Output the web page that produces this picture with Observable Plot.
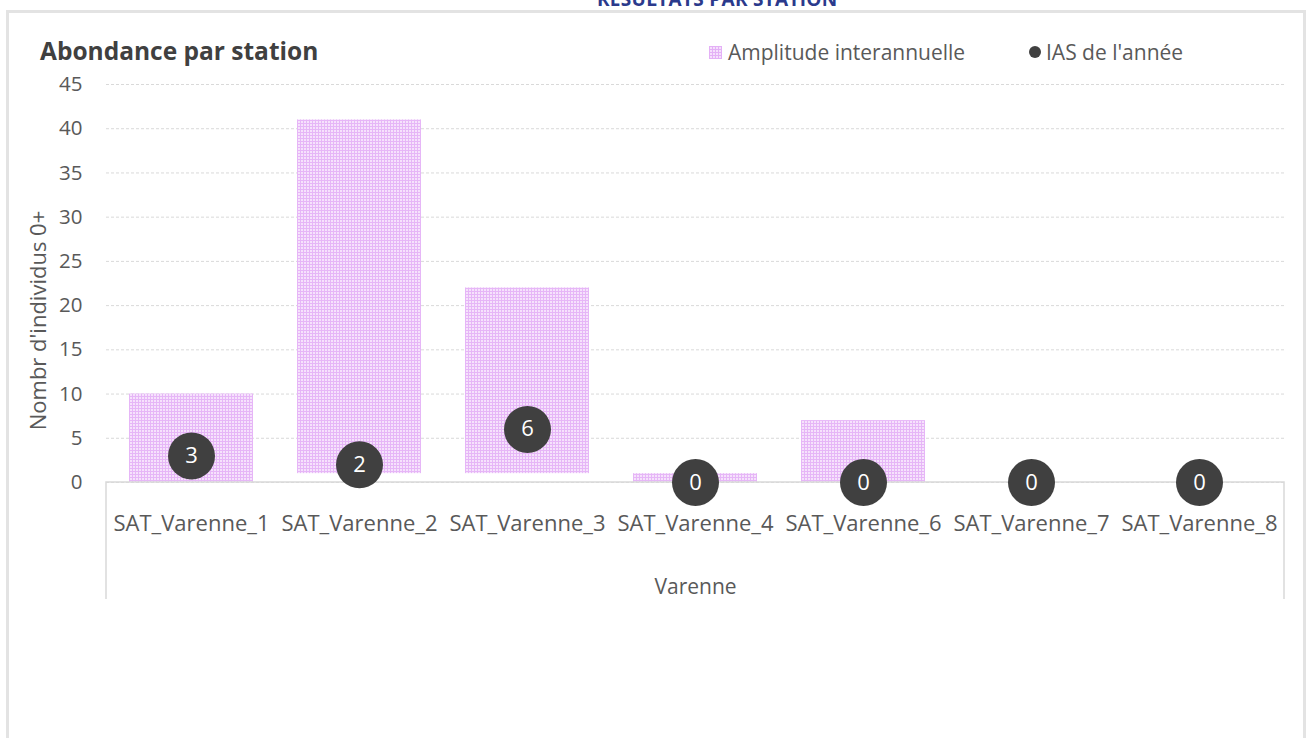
<!DOCTYPE html>
<html>
<head>
<meta charset="utf-8">
<script src="https://cdn.jsdelivr.net/npm/d3@7"></script>
<script src="https://cdn.jsdelivr.net/npm/@observablehq/plot@0.6"></script>
<style>
  html, body { margin: 0; padding: 0; background: #fff; }
  body { width: 1309px; height: 738px; overflow: hidden; position: relative; font-family: "Open Sans", sans-serif; }
  #frame { position: absolute; left: 6px; top: 10px; width: 1300px; height: 740px; border: 3px solid #e3e3e3; box-sizing: border-box; }
  #toptitle { position: absolute; left: 597px; top: -14px; white-space: nowrap; font-weight: bold; font-size: 19px; color: #2b3a8c; letter-spacing: 0.3px; }
  #chart { position: absolute; left: 0; top: 0; }
  #title { position: absolute; left: 40px; top: 35px; font-weight: bold; font-size: 24.5px; color: #404040; line-height: 32px; }
  .leg { position: absolute; top: 38px; font-size: 21px; color: #595959; display: flex; align-items: center; line-height: 28px; }
  .sw { width: 13px; height: 13px; margin-right: 6px; background-color: #f5e0fc;
        background-image: linear-gradient(#e4b0f6 1px, transparent 1px), linear-gradient(90deg, #e4b0f6 1px, transparent 1px);
        background-size: 3px 3px; }
  .dotsw { width: 12px; height: 12px; border-radius: 50%; background: #404040; margin-right: 5px; }
</style>
</head>
<body>
<div id="frame"></div>
<div id="toptitle">RESULTATS PAR STATION</div>
<div id="chart"></div>
<div id="title">Abondance par station</div>
<div class="leg" style="left:709px"><div class="sw"></div>Amplitude interannuelle</div>
<div class="leg" style="left:1029px"><div class="dotsw"></div>IAS de l'année</div>
<script>
const stations = ["SAT_Varenne_1","SAT_Varenne_2","SAT_Varenne_3","SAT_Varenne_4","SAT_Varenne_6","SAT_Varenne_7","SAT_Varenne_8"];
const ampMin = [0, 1, 1, 0, 0, null, null];
const ampMax = [10, 41, 22, 1, 7, null, null];
const iasValues = [3, 2, 6, 0, 0, 0, 0];
const yTicks = [0, 5, 10, 15, 20, 25, 30, 35, 40, 45];
const groupLabel = "Varenne";
const yLabel = "Nombr d'individus 0+";

const bars = stations.map((s, i) => ({station: s, lo: ampMin[i], hi: ampMax[i]})).filter(d => d.hi != null);
const ias = stations.map((s, i) => ({station: s, v: iasValues[i]}));

const boxMark = (index, scales, values, dim) => {
  const g = document.createElementNS("http://www.w3.org/2000/svg", "g");
  const x0 = dim.marginLeft, x1 = dim.width - dim.marginRight, y0 = dim.height - dim.marginBottom;
  const p = document.createElementNS("http://www.w3.org/2000/svg", "path");
  p.setAttribute("d", `M${x0},${y0 + 117}V${y0}H${x1}V${y0 + 117}`);
  p.setAttribute("fill", "none");
  p.setAttribute("stroke", "#d9d9d9");
  p.setAttribute("stroke-width", 1.5);
  g.appendChild(p);
  return g;
};

const plot = Plot.plot({
  width: 1309,
  height: 738,
  marginLeft: 106,
  marginRight: 25,
  marginTop: 84,
  marginBottom: 256,
  style: {fontFamily: "Open Sans, sans-serif", color: "#595959", background: "transparent"},
  x: {domain: stations, paddingInner: 0.26, paddingOuter: 0.13},
  y: {domain: [0, 45]},
  marks: [
    Plot.gridY(yTicks, {stroke: "#d9d9d9", strokeOpacity: 1, strokeDasharray: "3,2"}),
    Plot.barY(bars, {x: "station", y1: "lo", y2: "hi", fill: "url(#amppat)"}),
    boxMark,
    Plot.axisY(yTicks, {tickSize: 0, tickPadding: 24, fontSize: 20.5, fill: "#595959", label: null}),
    Plot.axisX({tickSize: 0, tickPadding: 33, fontSize: 22, fill: "#595959", label: null}),
    Plot.text([groupLabel], {frameAnchor: "bottom", lineAnchor: "middle", dy: 105, fontSize: 21, fill: "#595959"}),
    Plot.text([yLabel], {frameAnchor: "left", textAnchor: "middle", lineAnchor: "middle", dx: -68, dy: 37, rotate: -90, fontSize: 22, fill: "#595959"}),
    Plot.dot(ias, {x: "station", y: "v", r: 23.5, fill: "#404040"}),
    Plot.text(ias, {x: "station", y: "v", text: d => String(d.v), fill: "white", fontSize: 22})
  ]
});

// pattern definition for the amplitude bars
const ns = "http://www.w3.org/2000/svg";
const defs = document.createElementNS(ns, "defs");
defs.innerHTML = `<pattern id="amppat" width="3" height="3" patternUnits="userSpaceOnUse">
  <rect width="3" height="3" fill="#f6e2fc"></rect>
  <rect width="3" height="1" fill="#e6b6f7"></rect>
  <rect width="1" height="3" fill="#e6b6f7"></rect>
</pattern>`;
plot.insertBefore(defs, plot.firstChild);
document.getElementById("chart").appendChild(plot);
</script>
</body>
</html>
